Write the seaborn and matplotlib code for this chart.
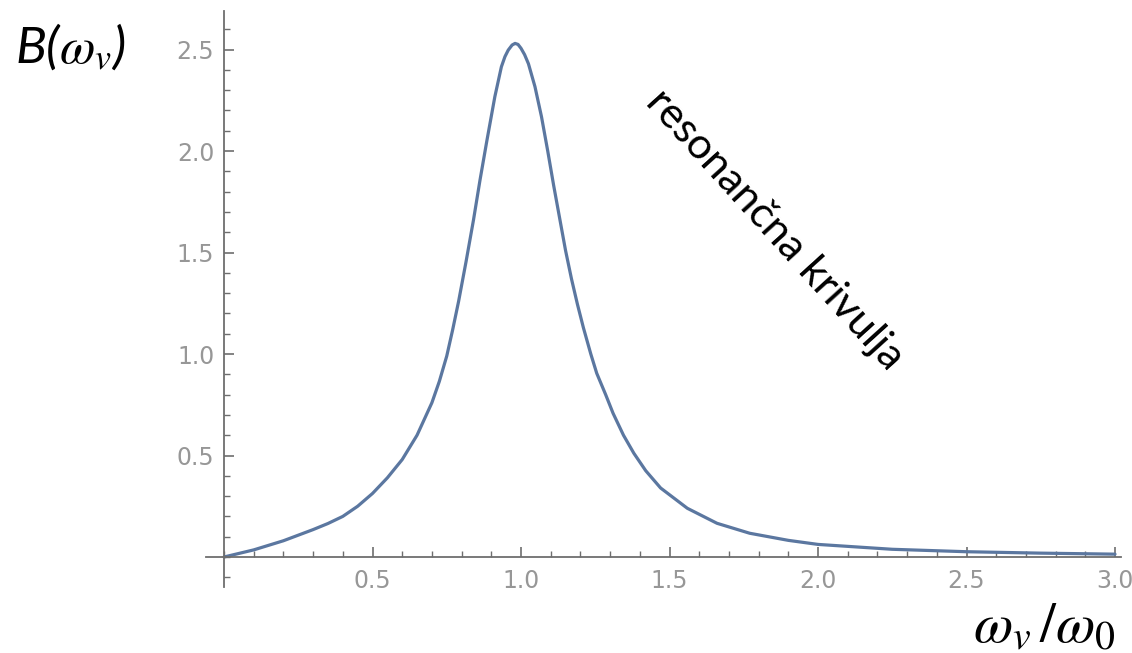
import matplotlib
matplotlib.use("Agg")
import matplotlib.pyplot as plt
import seaborn as sns
import pandas as pd
from matplotlib.ticker import MultipleLocator, FixedLocator

# ---- data ----
omega_ratio = [0.0, 0.1, 0.2, 0.3, 0.35, 0.4, 0.45, 0.5, 0.55, 0.6, 0.65, 0.7,
               0.725, 0.75, 0.77, 0.79, 0.815, 0.84, 0.862, 0.885, 0.912,
               0.934, 0.946, 0.957, 0.97, 0.98, 0.99, 1.0, 1.012, 1.025, 1.047,
               1.069, 1.09, 1.11, 1.13, 1.15, 1.17, 1.19, 1.21, 1.235, 1.255,
               1.285, 1.31, 1.345, 1.38, 1.42, 1.47, 1.56, 1.66, 1.77, 1.9,
               2.0, 2.25, 2.5, 2.75, 3.0]
amplitude = [0.0, 0.035, 0.08, 0.135, 0.165, 0.2, 0.25, 0.313, 0.39, 0.48,
             0.6, 0.76, 0.865, 0.99, 1.12, 1.26, 1.455, 1.66, 1.857, 2.05,
             2.268, 2.415, 2.465, 2.497, 2.522, 2.53, 2.525, 2.506, 2.475,
             2.43, 2.317, 2.169, 2.0, 1.83, 1.67, 1.51, 1.37, 1.245, 1.13,
             1.0, 0.905, 0.80, 0.708, 0.6, 0.511, 0.425, 0.34, 0.24, 0.166,
             0.117, 0.082, 0.062, 0.038, 0.026, 0.019, 0.014]
x_ticks = [0.5, 1.0, 1.5, 2.0, 2.5, 3.0]
x_tick_labels = ["0.5", "1.0", "1.5", "2.0", "2.5", "3.0"]
y_ticks = [0.5, 1.0, 1.5, 2.0, 2.5]
y_tick_labels = ["0.5", "1.0", "1.5", "2.0", "2.5"]
y_title = "B(" + r"$\omega_v$" + ")"
x_title = r"$\omega_v\,/\omega_0$"
curve_note = "resonančna krivulja"

df = pd.DataFrame({"w": omega_ratio, "B": amplitude})

sns.set_style("white")
plt.rcParams["font.family"] = ["Lato", "DejaVu Sans"]
plt.rcParams["mathtext.fontset"] = "stix"

W, H = 1132, 653
fig = plt.figure(figsize=(W / 100, H / 100), dpi=100)
xmin, xmax = -0.06, 3.02
ymin, ymax = -0.15, 2.69
x0px, sx = 224, 297.0
y0px, sy = 557, 203.0
left = x0px + xmin * sx
right = x0px + xmax * sx
top = y0px - ymax * sy
bottom = y0px - ymin * sy
ax = fig.add_axes([left / W, (H - bottom) / H, (right - left) / W, (bottom - top) / H])

sns.lineplot(data=df, x="w", y="B", ax=ax, color="#5b77a0", linewidth=2.3,
             sort=False, estimator=None)
ax.lines[0].set_solid_joinstyle("round")
ax.lines[0].set_solid_capstyle("round")

ax.set_xlim(xmin, xmax)
ax.set_ylim(ymin, ymax)
ax.set_xlabel("")
ax.set_ylabel("")

for s in ("top", "right"):
    ax.spines[s].set_visible(False)
for s in ("left", "bottom"):
    ax.spines[s].set_position(("data", 0))
    ax.spines[s].set_color("#6e6e6e")
    ax.spines[s].set_linewidth(1.3)

ax.xaxis.set_major_locator(FixedLocator(x_ticks))
ax.set_xticklabels(x_tick_labels)
ax.yaxis.set_major_locator(FixedLocator(y_ticks))
ax.set_yticklabels(y_tick_labels)
ax.xaxis.set_minor_locator(MultipleLocator(0.1))
ax.yaxis.set_minor_locator(MultipleLocator(0.1))

ax.tick_params(axis="both", which="major", direction="in", length=7, width=1.2,
               color="#6e6e6e", labelcolor="#979797", labelsize=17,
               bottom=True, left=True)
ax.tick_params(axis="x", which="major", pad=9)
ax.tick_params(axis="y", which="major", pad=7)
ax.tick_params(axis="both", which="minor", direction="in", length=4, width=1.0,
               color="#6e6e6e", bottom=True, left=True)
for lab in ax.get_xticklabels() + ax.get_yticklabels():
    lab.set_family(["DejaVu Sans"])

fig.text(15 / W, 1 - 47 / H, y_title, fontsize=37, fontstyle="italic",
         ha="left", va="center", color="black")
fig.text(1044 / W, 1 - 626 / H, x_title, fontsize=41,
         ha="center", va="center", color="black")
fig.text(775 / W, 1 - 230 / H, curve_note, fontsize=31, rotation=-47.8,
         rotation_mode="anchor", ha="center", va="center", color="black")

fig.savefig("out.png", dpi=100, facecolor="white")
